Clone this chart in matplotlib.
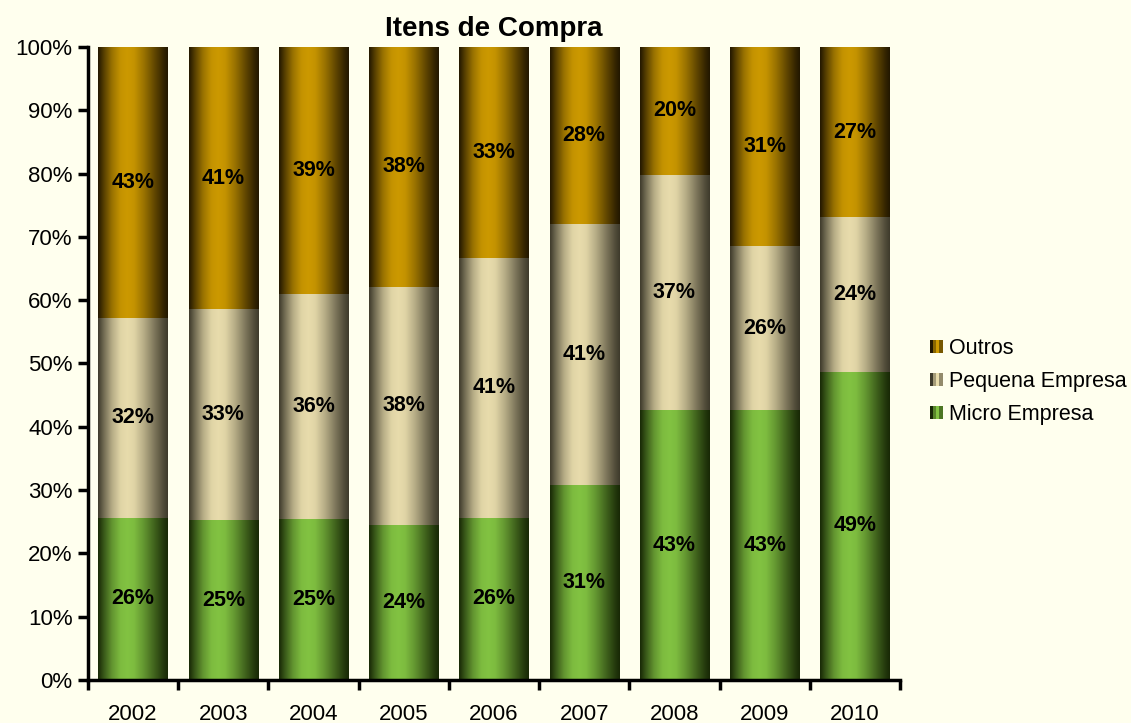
import numpy as np
import matplotlib.pyplot as plt
from matplotlib.colors import LinearSegmentedColormap, to_rgb
from matplotlib.patches import Rectangle
from matplotlib.legend_handler import HandlerBase

plt.rcParams['font.family'] = ['Liberation Sans', 'DejaVu Sans']

# data (shares in %)
years = ['2002', '2003', '2004', '2005', '2006', '2007', '2008', '2009', '2010']
micro = [25.6, 25.2, 25.4, 24.5, 25.6, 30.8, 42.6, 42.6, 48.7]
pequena = [31.6, 33.4, 35.6, 37.6, 41.1, 41.2, 37.2, 26.0, 24.4]
outros = [42.8, 41.4, 39.0, 37.9, 33.3, 28.0, 20.2, 31.4, 26.9]
series_names = ['Micro Empresa', 'Pequena Empresa', 'Outros']

bg = '#FFFFEE'
# (dark edge, bright centre) for each series
shades = {
    'Micro Empresa': ('#182806', '#82C342'),
    'Pequena Empresa': ('#3E3A2B', '#E8DCAC'),
    'Outros': ('#221700', '#CC9900'),
}


def mix(a, b, t):
    a, b = np.array(to_rgb(a)), np.array(to_rgb(b))
    return tuple(a + (b - a) * t)


def make_cmap(dark, light):
    stops = [(0, 0.0), (0.08, 0.3), (0.2, 0.7), (0.32, 0.95), (0.42, 1.0),
             (0.52, 0.95), (0.66, 0.7), (0.82, 0.35), (0.94, 0.1), (1, 0.0)]
    return LinearSegmentedColormap.from_list('g', [(p, mix(dark, light, t)) for p, t in stops])


fig = plt.figure(figsize=(11.31, 7.23), dpi=100, facecolor=bg)
ax = fig.add_axes([0.0778, 0.0595, 0.718, 0.8755])
ax.set_facecolor(bg)

x = np.arange(len(years))
width = 0.77
grad = np.linspace(0, 1, 256).reshape(1, -1)
bottom = np.zeros(len(years))
for name, vals in zip(series_names, [micro, pequena, outros]):
    vals = np.array(vals)
    bars = ax.bar(x, vals, width, bottom=bottom, color='none', edgecolor='none', label=name)
    cmap = make_cmap(*shades[name])
    for b in bars:
        x0, y0 = b.get_x(), b.get_y()
        ax.imshow(grad, cmap=cmap, aspect='auto', interpolation='bicubic',
                  extent=[x0, x0 + b.get_width(), y0, y0 + b.get_height()], zorder=2)
    for xi, bt, v in zip(x, bottom, vals):
        ax.text(xi, bt + v / 2, f'{round(v):.0f}%', ha='center', va='center',
                fontsize=15.5, fontweight='bold', color='black', zorder=3)
    bottom += vals

ax.set_xlim(-0.5, len(years) - 0.5)
ax.set_ylim(0, 100)
ax.set_yticks(np.arange(0, 101, 10))
ax.set_yticklabels([f'{v}%' for v in range(0, 101, 10)], fontsize=16)
ax.set_xticks(x)
ax.set_xticklabels(years, fontsize=16)
ax.set_xticks(np.arange(-0.5, len(years)), minor=True)
ax.tick_params(axis='x', which='major', length=0, pad=17)
ax.tick_params(axis='x', which='minor', length=7, width=2.5, direction='out')
ax.tick_params(axis='y', length=7, width=2.5, direction='out', pad=4)
for s in ['top', 'right']:
    ax.spines[s].set_visible(False)
for s in ['left', 'bottom']:
    ax.spines[s].set_linewidth(2.5)

ax.set_title('Itens de Compra', fontsize=20, fontweight='bold', pad=8)


class GradHandler(HandlerBase):
    def __init__(self, dark, light):
        super().__init__()
        self.dark, self.light = dark, light

    def create_artists(self, legend, orig, xd, yd, w, h, fontsize, trans):
        s = h * 0.85
        x0 = xd + w - s
        y0 = yd + (h - s) / 2
        parts = []
        cols = [self.dark, mix(self.dark, self.light, 0.6), self.light, mix(self.dark, self.light, 0.5)]
        for i, c in enumerate(cols):
            parts.append(Rectangle((x0 + i * s / 4, y0), s / 4, s, facecolor=c,
                                   edgecolor='none', transform=trans))
        return parts


handles, labels = ax.get_legend_handles_labels()
order = [2, 1, 0]
hmap = {handles[i]: GradHandler(*shades[labels[i]]) for i in order}
leg = fig.legend([handles[i] for i in order], [labels[i] for i in order],
                 loc='center left', bbox_to_anchor=(0.801, 0.472), frameon=False,
                 fontsize=15.5, handler_map=hmap, handlelength=0.8, handletextpad=0.3,
                 labelspacing=0.55)

fig.savefig('out.png', dpi=100, facecolor=bg)
